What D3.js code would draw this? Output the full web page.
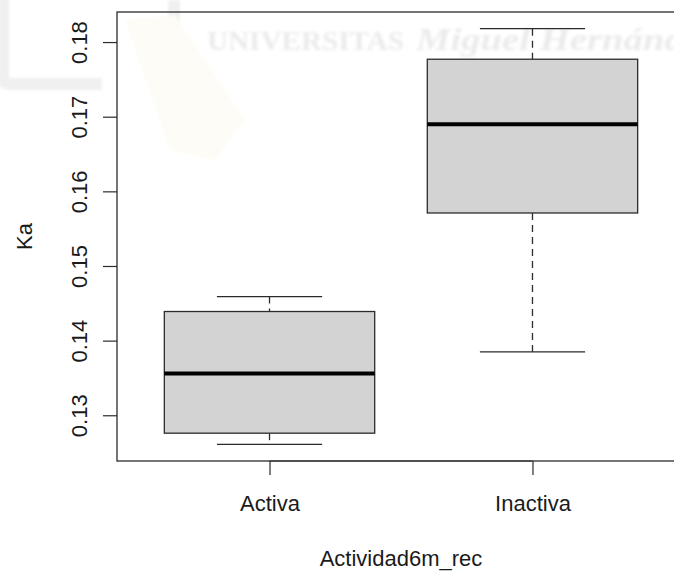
<!DOCTYPE html>
<html>
<head>
<meta charset="utf-8">
<script src="https://cdn.jsdelivr.net/npm/d3@7"></script>
<style>
  html, body { margin: 0; padding: 0; background: #fff; }
  svg { display: block; }
  text { font-family: "Liberation Sans", Arial, Helvetica, sans-serif; fill: #1a1a1a; }
</style>
</head>
<body>
<svg id="chart" width="674" height="572"></svg>
<script>
// Five-number summaries of Ka per activity group
const categories  = ["Activa", "Inactiva"];
const whiskerLow  = [0.1261, 0.1385];
const q1          = [0.1276, 0.1571];
const median      = [0.1356, 0.1690];
const q3          = [0.1439, 0.1777];
const whiskerHigh = [0.1459, 0.1818];
const yTicks      = [0.13, 0.14, 0.15, 0.16, 0.17, 0.18];
const xTitle = "Actividad6m_rec";
const yTitle = "Ka";

const svg = d3.select("#chart");
const plot = { left: 117, top: 12, right: 685, bottom: 461 };

// soft blur for the faint background watermark
svg.append("defs").append("filter").attr("id", "soft")
  .attr("x", "-10%").attr("y", "-50%").attr("width", "120%").attr("height", "200%")
  .append("feGaussianBlur").attr("stdDeviation", 1.6);

const wm = svg.append("g").attr("class", "watermark").attr("filter", "url(#soft)");
wm.append("path")
  .attr("d", "M3,-10 V78 Q3,84 11,84 H102")
  .attr("fill", "none").attr("stroke", "#f0f0f0").attr("stroke-width", 12);
wm.append("rect").attr("x", 168).attr("y", 0).attr("width", 12).attr("height", 44).attr("fill", "#f0f0f0");
wm.append("path")
  .attr("d", "M125,20 L175,15 L245,120 L215,160 L170,150 Z")
  .attr("fill", "#fdfcf6");
wm.append("text")
  .attr("x", 207).attr("y", 50)
  .attr("textLength", 197).attr("lengthAdjust", "spacingAndGlyphs")
  .style("font-family", "'Liberation Serif', serif").style("font-weight", "bold")
  .style("font-size", "27px").style("fill", "#ebebeb")
  .text("UNIVERSITAS");
wm.append("text")
  .attr("x", 416).attr("y", 50)
  .attr("textLength", 300).attr("lengthAdjust", "spacingAndGlyphs")
  .style("font-family", "'Liberation Serif', serif").style("font-weight", "bold")
  .style("font-style", "italic")
  .style("font-size", "32px").style("fill", "#ebebeb")
  .text("Miguel Hernández");

// scales: data range padded by 4% like base graphics
const lo = d3.min(whiskerLow), hi = d3.max(whiskerHigh);
const pad = (hi - lo) * 0.04;
const y = d3.scaleLinear().domain([lo - pad, hi + pad]).range([plot.bottom, plot.top]);
const x = d3.scalePoint().domain(categories).range([plot.left, plot.right]).padding(0.58);
const step = x.step();
const boxHalf = step * 0.4;
const capHalf = step * 0.2;

const ink = "#2b2b2b";
const groups = svg.append("g").selectAll("g")
  .data(categories.map((c, i) => ({
    c, lo: whiskerLow[i], q1: q1[i], med: median[i], q3: q3[i], hi: whiskerHigh[i]
  })))
  .join("g");

// whiskers (dashed) and caps
groups.append("line")
  .attr("x1", d => x(d.c)).attr("x2", d => x(d.c))
  .attr("y1", d => y(d.hi)).attr("y2", d => y(d.q3))
  .attr("stroke", ink).attr("stroke-width", 1.3).attr("stroke-dasharray", "7,5");
groups.append("line")
  .attr("x1", d => x(d.c)).attr("x2", d => x(d.c))
  .attr("y1", d => y(d.q1)).attr("y2", d => y(d.lo))
  .attr("stroke", ink).attr("stroke-width", 1.3).attr("stroke-dasharray", "7,5");
groups.append("line")
  .attr("x1", d => x(d.c) - capHalf).attr("x2", d => x(d.c) + capHalf)
  .attr("y1", d => y(d.hi)).attr("y2", d => y(d.hi))
  .attr("stroke", ink).attr("stroke-width", 1.3);
groups.append("line")
  .attr("x1", d => x(d.c) - capHalf).attr("x2", d => x(d.c) + capHalf)
  .attr("y1", d => y(d.lo)).attr("y2", d => y(d.lo))
  .attr("stroke", ink).attr("stroke-width", 1.3);

// boxes and medians
groups.append("rect")
  .attr("x", d => x(d.c) - boxHalf).attr("width", boxHalf * 2)
  .attr("y", d => y(d.q3)).attr("height", d => y(d.q1) - y(d.q3))
  .attr("fill", "#d3d3d3").attr("stroke", ink).attr("stroke-width", 1.3);
groups.append("line")
  .attr("x1", d => x(d.c) - boxHalf).attr("x2", d => x(d.c) + boxHalf)
  .attr("y1", d => y(d.med)).attr("y2", d => y(d.med))
  .attr("stroke", "#000").attr("stroke-width", 4);

// y axis with rotated tick labels
const yAxis = svg.append("g")
  .attr("transform", `translate(${plot.left},0)`)
  .call(d3.axisLeft(y).tickValues(yTicks).tickSize(14).tickFormat(d3.format(".2f")));
yAxis.select(".domain").remove();
yAxis.selectAll(".tick line").attr("stroke", ink).attr("stroke-width", 1.2);
yAxis.selectAll(".tick text")
  .attr("x", null).attr("dy", null)
  .attr("text-anchor", "middle")
  .attr("transform", "translate(-30,0) rotate(-90)")
  .style("font-size", "22px").style("fill", "#1a1a1a");

// x axis
const xAxis = svg.append("g")
  .attr("transform", `translate(0,${plot.bottom})`)
  .call(d3.axisBottom(x).tickSize(14).tickSizeOuter(0));
xAxis.select(".domain")
  .attr("d", `M${x(categories[0])},0H${x(categories[categories.length - 1])}`)
  .attr("stroke", ink).attr("stroke-width", 1.2);
xAxis.selectAll(".tick line").attr("stroke", ink).attr("stroke-width", 1.2);
xAxis.selectAll(".tick text")
  .attr("y", 50).attr("dy", null)
  .style("font-size", "22px").style("fill", "#1a1a1a");

// plot frame
svg.append("rect")
  .attr("x", plot.left).attr("y", plot.top)
  .attr("width", plot.right - plot.left).attr("height", plot.bottom - plot.top)
  .attr("fill", "none").attr("stroke", ink).attr("stroke-width", 1.3);

// axis titles
svg.append("text")
  .attr("x", (plot.left + plot.right) / 2).attr("y", 566)
  .attr("text-anchor", "middle").style("font-size", "22px")
  .text(xTitle);
svg.append("text")
  .attr("transform", `translate(32,${(plot.top + plot.bottom) / 2}) rotate(-90)`)
  .attr("text-anchor", "middle").style("font-size", "22px")
  .text(yTitle);
</script>
</body>
</html>
